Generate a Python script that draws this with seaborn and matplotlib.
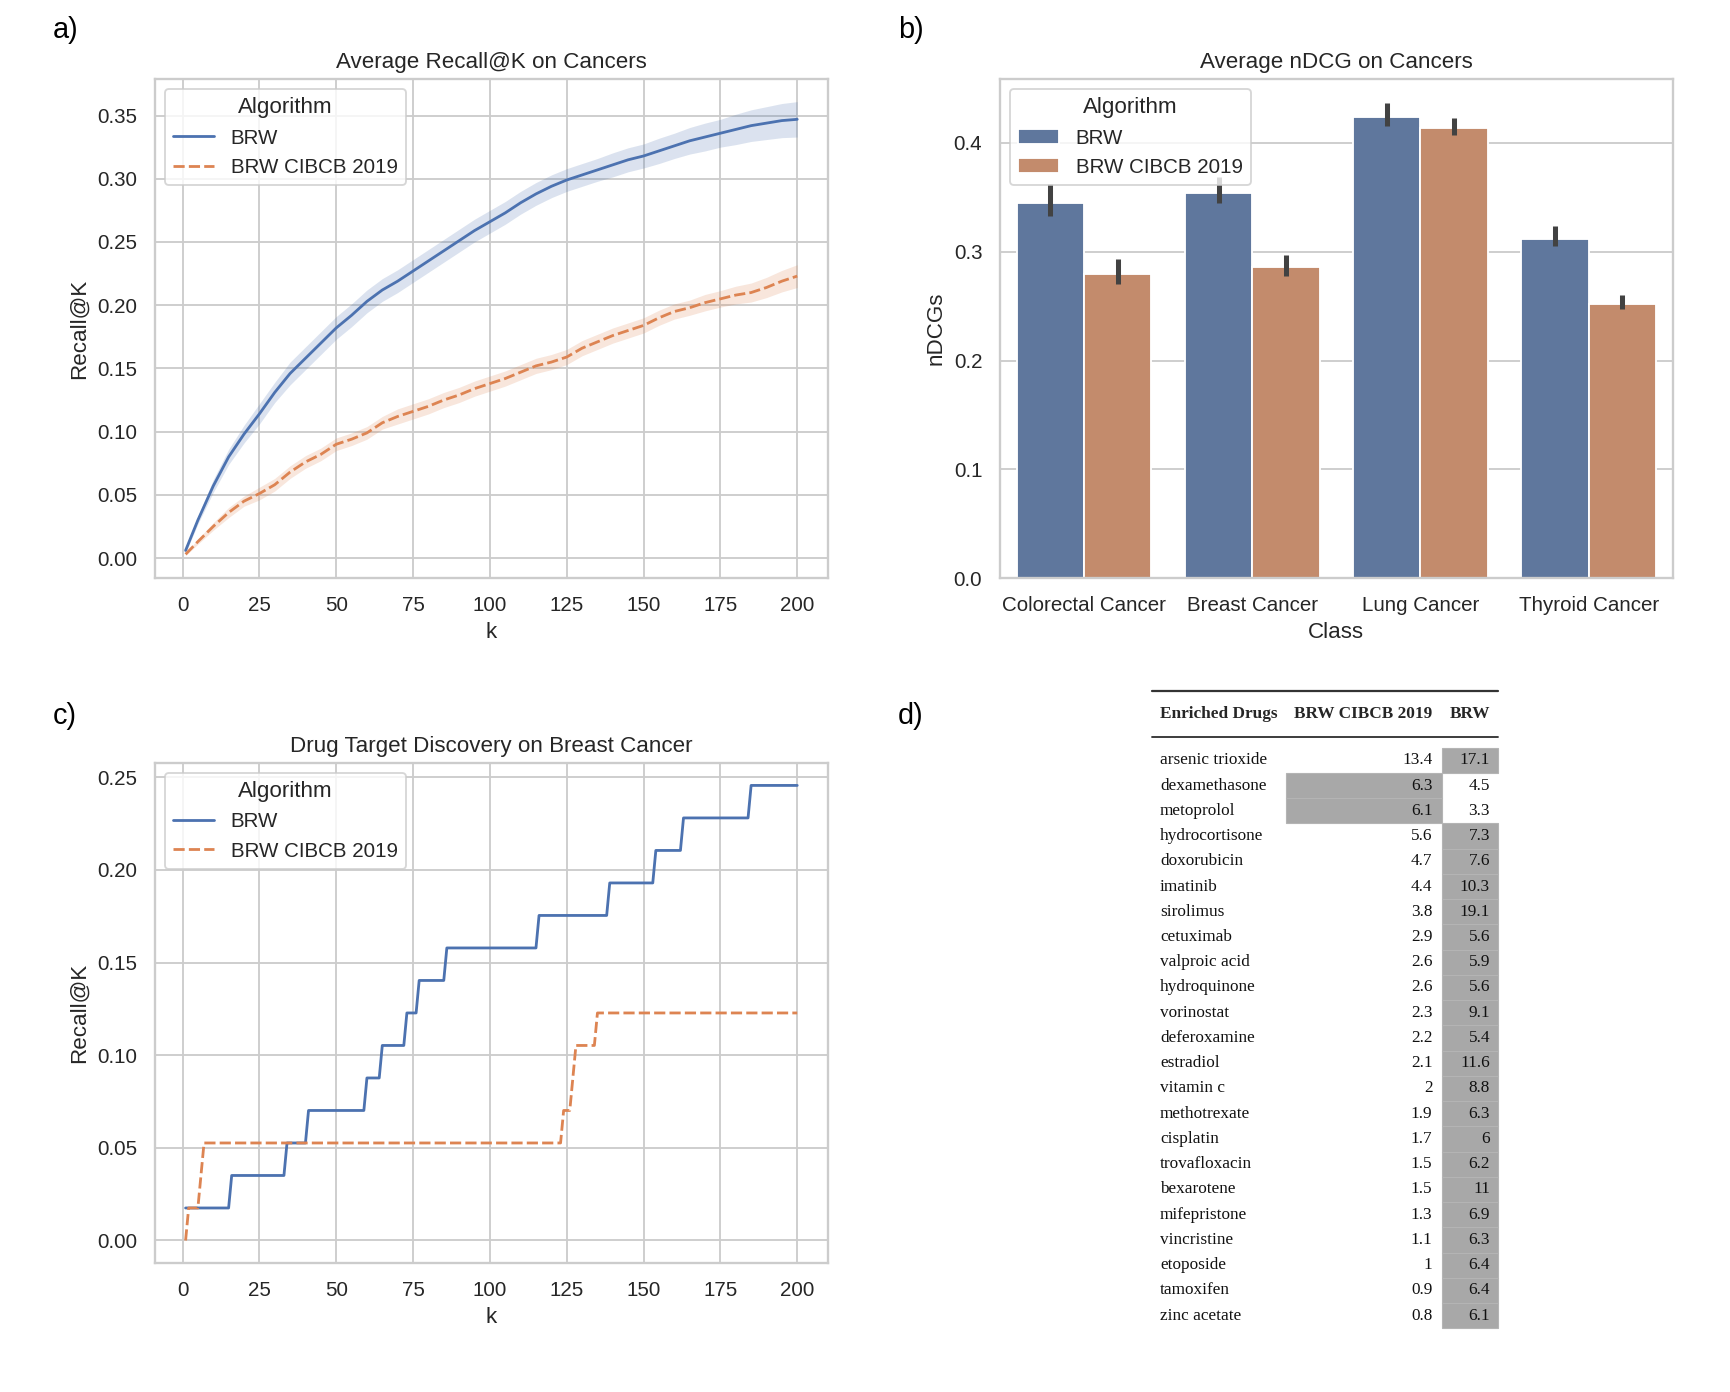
import numpy as np
import pandas as pd
import matplotlib
matplotlib.use("Agg")
import matplotlib.pyplot as plt
import seaborn as sns
from matplotlib.patches import Rectangle

# ---------------- data ----------------
algorithms = ["BRW", "BRW CIBCB 2019"]

# panel a: average Recall@K on cancers (mean and CI half-width)
k_points = [1, 5, 10, 15, 20, 25, 30, 35, 40, 45, 50, 55, 60, 65, 70, 75, 80, 85, 90, 95,
            100, 105, 110, 115, 120, 125, 130, 135, 140, 145, 150, 155, 160, 165, 170, 175,
            180, 185, 190, 195, 200]
brw_recall = [0.006, 0.030, 0.057, 0.080, 0.098, 0.114, 0.131, 0.146, 0.158, 0.170, 0.182,
              0.192, 0.203, 0.212, 0.219, 0.227, 0.235, 0.243, 0.251, 0.259, 0.266, 0.273,
              0.281, 0.288, 0.294, 0.299, 0.303, 0.307, 0.311, 0.315, 0.318, 0.322, 0.326,
              0.330, 0.333, 0.336, 0.339, 0.342, 0.344, 0.346, 0.347]
brw_ci = [0.002, 0.003, 0.005, 0.006, 0.007, 0.008, 0.008, 0.009, 0.009, 0.009, 0.009,
          0.009, 0.009, 0.009, 0.009, 0.009, 0.009, 0.009, 0.009, 0.009, 0.009, 0.009,
          0.009, 0.009, 0.009, 0.009, 0.009, 0.009, 0.0095, 0.0095, 0.0095, 0.010, 0.010,
          0.0105, 0.011, 0.011, 0.012, 0.0125, 0.013, 0.0135, 0.014]
cibcb_recall = [0.003, 0.013, 0.025, 0.036, 0.045, 0.051, 0.058, 0.068, 0.076, 0.082, 0.090,
                0.094, 0.099, 0.107, 0.112, 0.116, 0.120, 0.125, 0.129, 0.134, 0.138, 0.142,
                0.147, 0.152, 0.155, 0.159, 0.166, 0.171, 0.176, 0.180, 0.184, 0.190, 0.195,
                0.198, 0.202, 0.205, 0.208, 0.210, 0.214, 0.219, 0.223]
cibcb_ci = [0.001, 0.002, 0.003, 0.004, 0.004, 0.005, 0.005, 0.005, 0.005, 0.005, 0.005,
            0.005, 0.005, 0.005, 0.006, 0.006, 0.006, 0.006, 0.006, 0.006, 0.006, 0.006,
            0.006, 0.006, 0.006, 0.006, 0.006, 0.006, 0.006, 0.006, 0.006, 0.006, 0.006,
            0.006, 0.0065, 0.0065, 0.007, 0.0075, 0.008, 0.0085, 0.009]

# panel b: average nDCG on cancers
classes = ["Colorectal Cancer", "Breast Cancer", "Lung Cancer", "Thyroid Cancer"]
brw_ndcg = [0.345, 0.354, 0.424, 0.312]
brw_ndcg_lo = [0.333, 0.345, 0.416, 0.305]
brw_ndcg_hi = [0.362, 0.369, 0.437, 0.324]
cibcb_ndcg = [0.280, 0.286, 0.414, 0.252]
cibcb_ndcg_lo = [0.270, 0.278, 0.407, 0.247]
cibcb_ndcg_hi = [0.293, 0.297, 0.423, 0.260]

# panel c: drug target discovery on breast cancer (recall levels and how many k they last)
brw_levels = [1/57, 2/57, 3/57, 4/57, 5/57, 6/57, 7/57, 8/57, 9/57, 10/57, 11/57, 12/57, 13/57, 14/57]
brw_runs = [15, 18, 7, 19, 5, 8, 4, 9, 30, 23, 15, 9, 22, 16]
cibcb_levels = [0.0, 1/57, 2/57, 3/57, 4/57, 5/57, 6/57, 7/57]
cibcb_runs = [1, 4, 1, 117, 3, 1, 7, 66]

# panel d: enriched drugs table
drugs = ["arsenic trioxide", "dexamethasone", "metoprolol", "hydrocortisone", "doxorubicin",
         "imatinib", "sirolimus", "cetuximab", "valproic acid", "hydroquinone", "vorinostat",
         "deferoxamine", "estradiol", "vitamin c", "methotrexate", "cisplatin", "trovafloxacin",
         "bexarotene", "mifepristone", "vincristine", "etoposide", "tamoxifen", "zinc acetate"]
drug_cibcb = ["13.4", "6.3", "6.1", "5.6", "4.7", "4.4", "3.8", "2.9", "2.6", "2.6", "2.3",
              "2.2", "2.1", "2", "1.9", "1.7", "1.5", "1.5", "1.3", "1.1", "1", "0.9", "0.8"]
drug_brw = ["17.1", "4.5", "3.3", "7.3", "7.6", "10.3", "19.1", "5.6", "5.9", "5.6", "9.1",
            "5.4", "11.6", "8.8", "6.3", "6", "6.2", "11", "6.9", "6.3", "6.4", "6.4", "6.1"]
table_header = ["Enriched Drugs", "BRW CIBCB 2019", "BRW"]

# ---------------- style ----------------
sns.set_theme(style="whitegrid")
plt.rcParams["font.family"] = ["Liberation Sans", "DejaVu Sans"]

W, H, DPI = 1730, 1392, 134
fig = plt.figure(figsize=(W / DPI, H / DPI), dpi=DPI)

pal = sns.color_palette("deep")
palette = {algorithms[0]: pal[0], algorithms[1]: pal[1]}

ax_a = fig.add_axes([0.0896, 0.5846, 0.3889, 0.3587])
ax_b = fig.add_axes([0.5780, 0.5846, 0.3889, 0.3587])
ax_c = fig.add_axes([0.0896, 0.0925, 0.3889, 0.3596])

# ---- panel a ----
df_a = pd.DataFrame({
    "k": k_points + k_points,
    "Recall@K": brw_recall + cibcb_recall,
    "Algorithm": [algorithms[0]] * len(k_points) + [algorithms[1]] * len(k_points),
})
sns.lineplot(data=df_a, x="k", y="Recall@K", hue="Algorithm", style="Algorithm",
             palette=palette, errorbar=None, ax=ax_a)
for alg, mean, ci in [(algorithms[0], brw_recall, brw_ci), (algorithms[1], cibcb_recall, cibcb_ci)]:
    m = np.array(mean)
    c = np.array(ci)
    ax_a.fill_between(k_points, m - c, m + c, color=palette[alg], alpha=0.2, linewidth=0)
ax_a.set_title("Average Recall@K on Cancers")
ax_a.set_xticks([0, 25, 50, 75, 100, 125, 150, 175, 200])
ax_a.yaxis.set_major_formatter(matplotlib.ticker.FormatStrFormatter("%.2f"))
ax_a.legend(loc="upper left", title="Algorithm")

# ---- panel b ----
df_b = pd.DataFrame({
    "Class": classes + classes,
    "nDCGs": brw_ndcg + cibcb_ndcg,
    "Algorithm": [algorithms[0]] * len(classes) + [algorithms[1]] * len(classes),
})
sns.barplot(data=df_b, x="Class", y="nDCGs", hue="Algorithm", palette=palette,
            saturation=0.62, errorbar=None, ax=ax_b)
for cont, lo, hi in zip(ax_b.containers, [brw_ndcg_lo, cibcb_ndcg_lo], [brw_ndcg_hi, cibcb_ndcg_hi]):
    xs = [p.get_x() + p.get_width() / 2 for p in cont.patches]
    ax_b.vlines(xs, lo, hi, color=".26", linewidth=2.7, zorder=3)
ax_b.set_xlim(-0.5, len(classes) - 0.5)
ax_b.set_title("Average nDCG on Cancers")
ax_b.set_yticks([0.0, 0.1, 0.2, 0.3, 0.4])
ax_b.legend(loc="upper left", title="Algorithm")

# ---- panel c ----
k_all = list(range(1, 201))
brw_steps = list(np.repeat(brw_levels, brw_runs))
cibcb_steps = list(np.repeat(cibcb_levels, cibcb_runs))
df_c = pd.DataFrame({
    "k": k_all + k_all,
    "Recall@K": brw_steps + cibcb_steps,
    "Algorithm": [algorithms[0]] * 200 + [algorithms[1]] * 200,
})
sns.lineplot(data=df_c, x="k", y="Recall@K", hue="Algorithm", style="Algorithm",
             palette=palette, errorbar=None, ax=ax_c)
ax_c.set_title("Drug Target Discovery on Breast Cancer")
ax_c.set_xticks([0, 25, 50, 75, 100, 125, 150, 175, 200])
ax_c.yaxis.set_major_formatter(matplotlib.ticker.FormatStrFormatter("%.2f"))
ax_c.legend(loc="upper left", title="Algorithm")

# ---- panel letters ----
for lab, x, y in [("a)", 53, 30), ("b)", 898, 30), ("c)", 53, 716), ("d)", 898, 716)]:
    fig.text(x / W, 1 - y / H, lab, fontsize=15.5, ha="left", va="center", color="black")

# ---- panel d: table ----
ax_d = fig.add_axes([0, 0, 1, 1], facecolor="none")
ax_d.set_xlim(0, W)
ax_d.set_ylim(H, 0)
ax_d.axis("off")
serif = ["Liberation Serif", "DejaVu Serif"]
x_rule0, x_rule1 = 1152, 1498
x_name, x_c1, x_c2 = 1160, 1432.5, 1490
x_gray1, x_gray2 = 1286, 1441.5
y_top, y_head, y_rule2 = 690.7, 714.5, 736.5
y_row0, row_h = 747.7, 25.24
gray = "#a8a8a8"
ax_d.plot([x_rule0, x_rule1], [y_top, y_top], color="#333333", lw=1.2)
ax_d.plot([x_rule0, x_rule1], [y_rule2, y_rule2], color="#333333", lw=1.0)
fs = 9.3
ax_d.text(x_name, y_head, table_header[0], family=serif, fontsize=fs, weight="bold", ha="left", va="center")
ax_d.text(x_c1, y_head, table_header[1], family=serif, fontsize=fs, weight="bold", ha="right", va="center")
ax_d.text(x_c2, y_head, table_header[2], family=serif, fontsize=fs, weight="bold", ha="right", va="center")
for i, (name, v1, v2) in enumerate(zip(drugs, drug_cibcb, drug_brw)):
    top = y_row0 + i * row_h
    yc = top + row_h / 2
    f1, f2 = float(v1), float(v2)
    if f2 > f1:
        ax_d.add_patch(Rectangle((x_gray2, top), x_rule1 - x_gray2, row_h, facecolor=gray,
                                 edgecolor="#b4b4b4", lw=0.6))
    else:
        ax_d.add_patch(Rectangle((x_gray1, top), x_gray2 - x_gray1, row_h, facecolor=gray,
                                 edgecolor="#b4b4b4", lw=0.6))
    ax_d.text(x_name, yc, name, family=serif, fontsize=fs, ha="left", va="center", color="#111111")
    ax_d.text(x_c1, yc, v1, family=serif, fontsize=fs, ha="right", va="center", color="#111111")
    ax_d.text(x_c2, yc, v2, family=serif, fontsize=fs, ha="right", va="center", color="#111111")

fig.savefig("out.png", dpi=DPI)
